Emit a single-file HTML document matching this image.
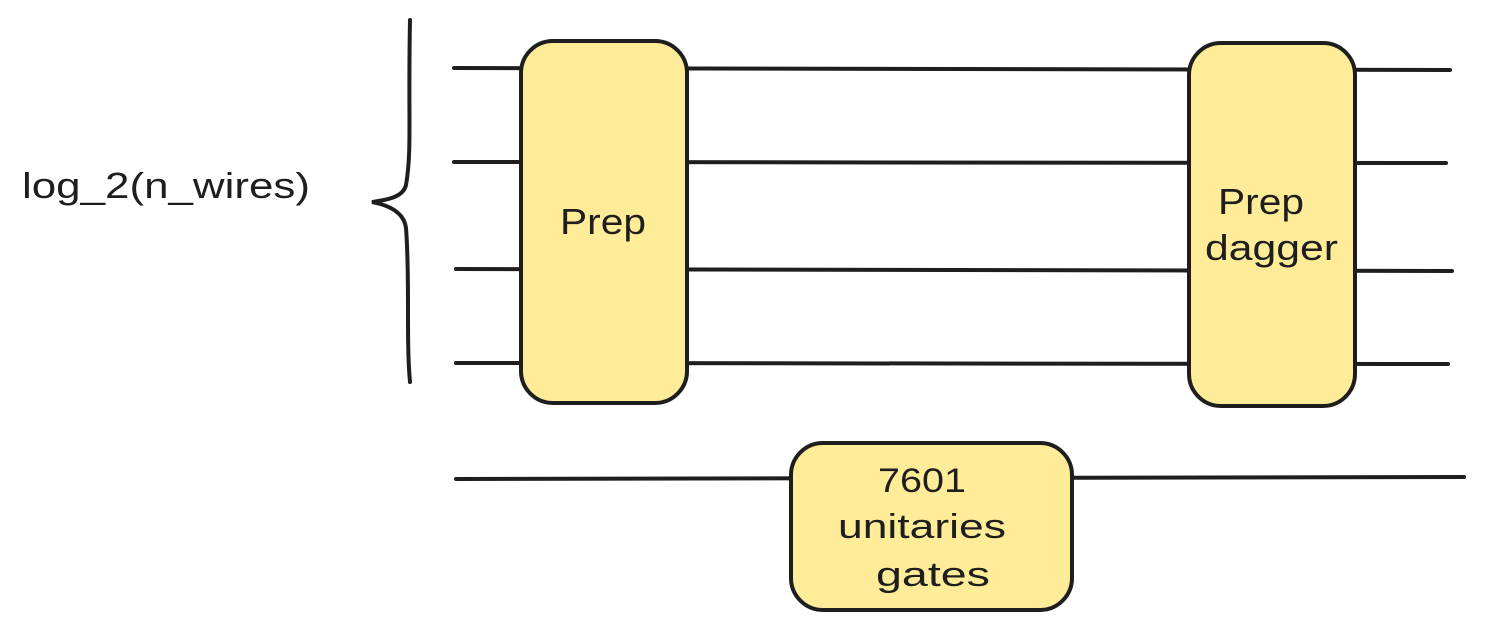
<!DOCTYPE html>
<html><head><meta charset="utf-8"><style>
html,body{margin:0;padding:0;background:#fff;}
svg{display:block;}
text{font-family:"Liberation Sans",sans-serif;fill:#1e1e1e;}
</style></head><body>
<svg width="1486" height="633" viewBox="0 0 1486 633">
  <g stroke="#1e1e1e" stroke-width="4" stroke-linecap="round" fill="none">
    <line x1="454" y1="68" x2="1450" y2="70"/>
    <line x1="454" y1="162" x2="1446" y2="163"/>
    <line x1="456" y1="269" x2="1452" y2="271"/>
    <line x1="456" y1="363" x2="1448" y2="364"/>
    <line x1="456" y1="479" x2="1464" y2="477"/>
    <path d="M410 20 C408 120 412 150 406 185 C403 198 385 200 372 202 C388 205 404 212 406 228 C410 280 406 340 410 382"/>
  </g>
  <g stroke="#1e1e1e" stroke-width="4" fill="#ffec99">
    <rect x="521" y="41" width="166" height="362" rx="32"/>
    <rect x="1189" y="43" width="166" height="363" rx="32"/>
    <rect x="791" y="443" width="281" height="167" rx="32"/>
  </g>
  <text x="22" y="198" font-size="36" textLength="288" lengthAdjust="spacingAndGlyphs">log_2(n_wires)</text>
  <text x="560" y="234" font-size="36" textLength="86" lengthAdjust="spacingAndGlyphs">Prep</text>
  <text x="1218" y="214" font-size="36" textLength="86" lengthAdjust="spacingAndGlyphs">Prep</text>
  <text x="1205" y="260" font-size="36" textLength="133" lengthAdjust="spacingAndGlyphs">dagger</text>
  <text x="878" y="492" font-size="34" textLength="88" lengthAdjust="spacingAndGlyphs">7601</text>
  <text x="838" y="538" font-size="34" textLength="168" lengthAdjust="spacingAndGlyphs">unitaries</text>
  <text x="876" y="586" font-size="34" textLength="114" lengthAdjust="spacingAndGlyphs">gates</text>
</svg>
</body></html>
